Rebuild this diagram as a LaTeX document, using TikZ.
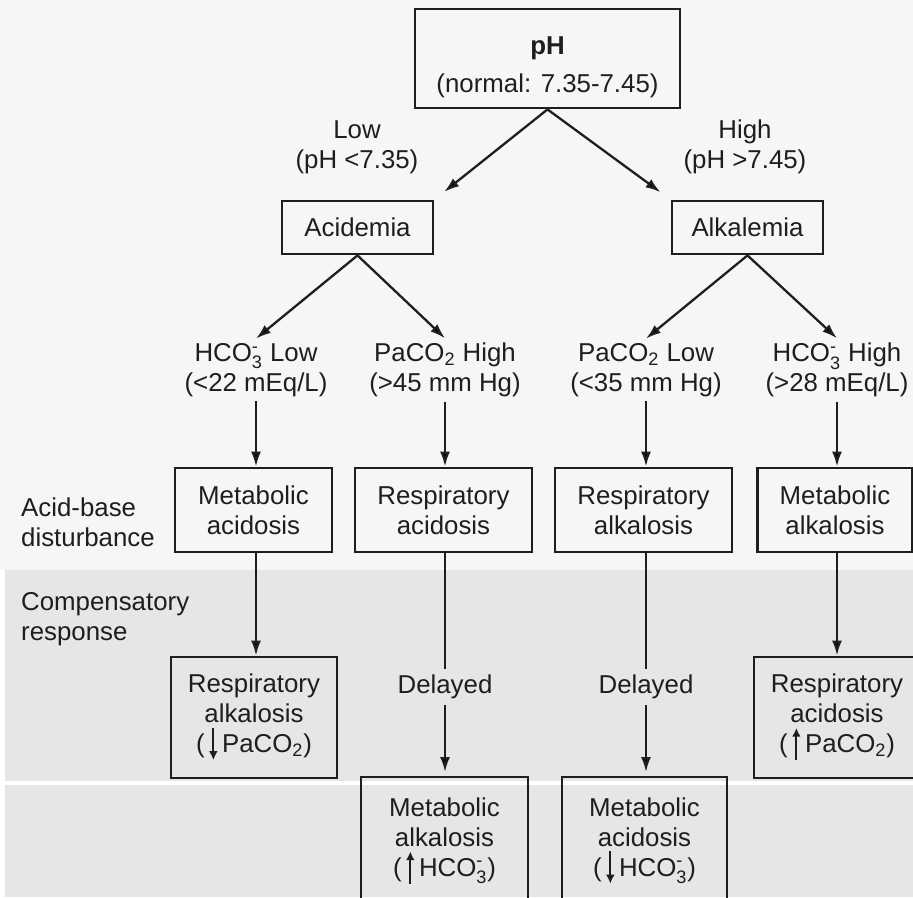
\documentclass[tikz,border=0pt]{standalone}
\usepackage{amsmath}
\usepackage{fontspec}
\setmainfont{Liberation Sans}
\usepackage{tikz}
\usetikzlibrary{arrows.meta, positioning}

\definecolor{pagebg}{RGB}{246,246,246}
\definecolor{bandgray}{RGB}{229,230,232}
\definecolor{ink}{RGB}{30,30,30}

\newcommand{\bicarb}{HCO$_{\text{3}}^{\text{-}}$}
\newcommand{\paco}{PaCO$_{\text{2}}$}
\newcommand{\uparr}{\,\tikz[baseline=0pt]\draw[ink, -{Latex[length=5pt,width=5pt]}, line width=1.1pt] (0,-0.55ex) -- (0,1.8ex);\,}
\newcommand{\dnarr}{\,\tikz[baseline=0pt]\draw[ink, -{Latex[length=5pt,width=5pt]}, line width=1.1pt] (0,1.8ex) -- (0,-0.55ex);\,}

\begin{document}
\begin{tikzpicture}[
    font=\fontsize{14.7}{17}\selectfont,
    box/.style={rectangle, draw=ink, line width=1.6pt, align=center, text=ink, inner sep=2pt},
    state/.style={box, minimum width=3.02cm, minimum height=1.06cm},
    disorder/.style={box, minimum height=1.68cm},
    comp/.style={box, minimum width=3.32cm, minimum height=2.42cm},
    cond/.style={align=center, text=ink, inner sep=2.5pt},
    side/.style={align=left, anchor=west, text=ink},
    delay/.style={text=ink, inner sep=3pt},
    line/.style={draw=ink, line width=1.3pt, -{Latex[length=0.3cm, width=0.2cm]}},
    plain/.style={draw=ink, line width=1.3pt}
]

% Background bands
\useasboundingbox (0,0) rectangle (18.26,-17.94);
\clip (0,0) rectangle (18.26,-17.94);
\fill[white] (0,0) rectangle (18.26,-17.94);
\fill[pagebg] (0,0) rectangle (18.26,-11.4);
\fill[bandgray] (0.1,-11.4) rectangle (18.26,-15.62);
\fill[bandgray] (0.1,-15.7) rectangle (18.26,-17.94);

% Nodes
\node[box, minimum width=5.3cm, minimum height=1.98cm] (ph) at (10.95,-1.17) {\rule{0pt}{20pt}\textbf{pH}\\[4.5pt](normal: 7.35-7.45)};
\node[cond] (low) at (7.14,-2.94) {Low\\(pH <7.35)};
\node[cond] (high) at (14.9,-2.94) {High\\(pH >7.45)};

\node[state] (acid) at (7.15,-4.55) {Acidemia};
\node[state] (alk) at (14.95,-4.55) {Alkalemia};

\node[cond] (hcolow) at (5.12,-7.4) {\bicarb{} Low\\(<22 mEq/L)};
\node[cond] (pcohigh) at (8.9,-7.4) {\paco{} High\\(>45 mm Hg)};
\node[cond] (pcolow) at (12.92,-7.4) {\paco{} Low\\(<35 mm Hg)};
\node[cond] (hcohigh) at (16.74,-7.4) {\bicarb{} High\\(>28 mEq/L)};

% Acid-base disturbances
\node[disorder, minimum width=3.14cm] (metacid) at (5.07,-10.2) {Metabolic\\acidosis};
\node[disorder, minimum width=3.54cm] (respacid) at (8.87,-10.2) {Respiratory\\acidosis};
\node[disorder, minimum width=3.54cm] (respalk) at (12.87,-10.2) {Respiratory\\alkalosis};
\node[disorder, minimum width=3.1cm] (metalk) at (16.7,-10.2) {Metabolic\\alkalosis};

\node[side] (abd) at (0.3,-10.44) {Acid-base\\disturbance};
\node[side] (cresp) at (0.3,-12.38) {Compensatory\\response};

% Compensation
\node[comp] (compalk) at (5.08,-14.35) {Respiratory\\alkalosis\\(\dnarr\paco)};
\node[comp] (compacid) at (16.74,-14.35) {Respiratory\\acidosis\\(\uparr\paco)};
\node[delay] (delay1) at (8.9,-13.74) {Delayed};
\node[delay] (delay2) at (12.92,-13.74) {Delayed};
\node[box, minimum width=3.34cm, minimum height=2.56cm] (latealk) at (8.89,-16.82) {Metabolic\\alkalosis\\(\uparr\bicarb)};
\node[box, minimum width=3.3cm, minimum height=2.56cm] (lateacid) at (12.89,-16.82) {Metabolic\\acidosis\\(\dnarr\bicarb)};

% Connections
\draw[line, shorten >=0.25cm] (ph.south) -- (acid.north east);
\draw[line, shorten >=0.25cm] (ph.south) -- (alk.north west);
\draw[line] (acid.south) -- (hcolow.north);
\draw[line] (acid.south) -- (pcohigh.north);
\draw[line] (alk.south) -- (pcolow.north);
\draw[line] (alk.south) -- (hcohigh.north);

\draw[line] (hcolow.south) -- (hcolow.south |- metacid.north);
\draw[line] (pcohigh.south) -- (pcohigh.south |- respacid.north);
\draw[line] (pcolow.south) -- (pcolow.south |- respalk.north);
\draw[line] (hcohigh.south) -- (hcohigh.south |- metalk.north);

\draw[line] (hcolow.south |- metacid.south) -- (hcolow.south |- compalk.north);
\draw[line] (hcohigh.south |- metalk.south) -- (hcohigh.south |- compacid.north);
\draw[plain] (delay1.north |- respacid.south) -- (delay1.north);
\draw[line, shorten >=2pt] (delay1.south) -- (delay1.south |- latealk.north);
\draw[plain] (delay2.north |- respalk.south) -- (delay2.north);
\draw[line, shorten >=2pt] (delay2.south) -- (delay2.south |- lateacid.north);

\end{tikzpicture}
\end{document}
